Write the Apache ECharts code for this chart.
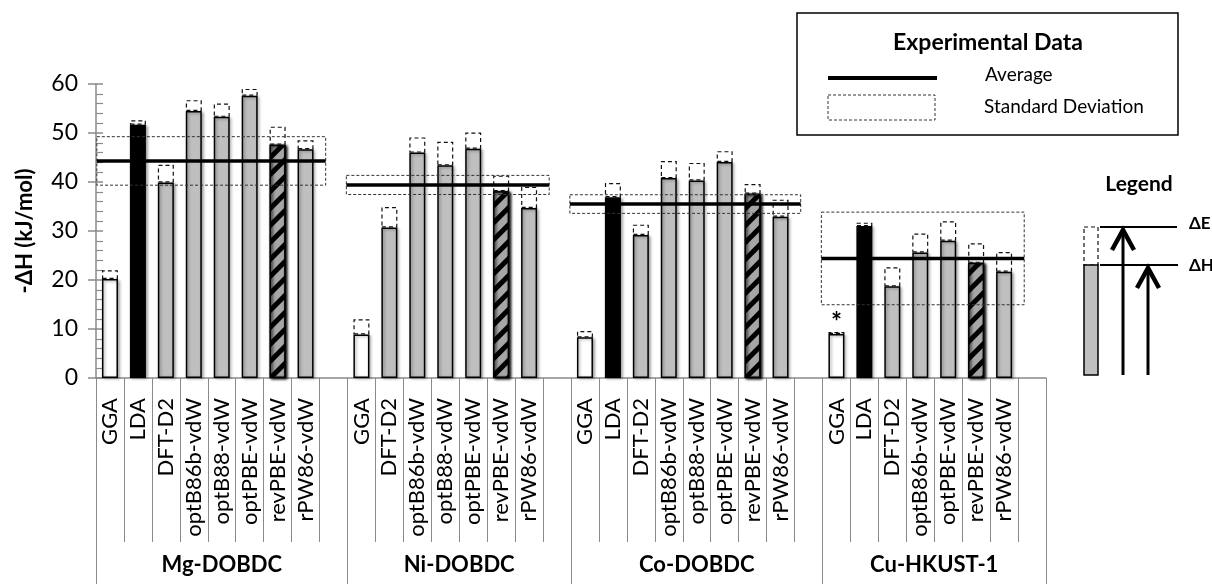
<!DOCTYPE html>
<html>
<head>
<meta charset="utf-8">
<script src="https://cdn.jsdelivr.net/npm/echarts@6/dist/echarts.min.js"></script>
<style>html,body{margin:0;padding:0;background:#fff;}#chart{width:1212px;height:584px;}</style>
</head>
<body>
<div id="chart"></div>
<script>
// ---------- DATA ----------
const groupNames = ['Mg-DOBDC', 'Ni-DOBDC', 'Co-DOBDC', 'Cu-HKUST-1'];

const mgMethods = ['GGA', 'LDA', 'DFT-D2', 'optB86b-vdW', 'optB88-vdW', 'optPBE-vdW', 'revPBE-vdW', 'rPW86-vdW'];
const mgDeltaH  = [20.2, 51.7, 39.9, 54.5, 53.3, 57.6, 47.6, 46.7];
const mgDeltaE  = [22.0, 52.6, 43.5, 56.7, 56.0, 59.0, 51.3, 48.5];

const niMethods = ['GGA', 'DFT-D2', 'optB86b-vdW', 'optB88-vdW', 'optPBE-vdW', 'revPBE-vdW', 'rPW86-vdW'];
const niDeltaH  = [8.9, 30.7, 46.0, 43.4, 46.8, 38.1, 34.7];
const niDeltaE  = [12.0, 34.9, 49.1, 48.2, 50.1, 41.3, 39.0];

const coMethods = ['GGA', 'LDA', 'DFT-D2', 'optB86b-vdW', 'optB88-vdW', 'optPBE-vdW', 'revPBE-vdW', 'rPW86-vdW'];
const coDeltaH  = [8.3, 36.9, 29.2, 40.8, 40.3, 44.1, 37.6, 32.9];
const coDeltaE  = [9.6, 39.8, 31.3, 44.3, 43.9, 46.3, 39.6, 36.4];

const cuMethods = ['GGA', 'LDA', 'DFT-D2', 'optB86b-vdW', 'optPBE-vdW', 'revPBE-vdW', 'rPW86-vdW'];
const cuDeltaH  = [9.0, 31.0, 18.7, 25.6, 28.0, 23.5, 21.7];
const cuDeltaE  = [9.4, 31.7, 22.6, 29.5, 32.0, 27.5, 25.7];

// experimental average and standard deviation per group
const expAverage = [44.3, 39.4, 35.5, 24.4];
const expStdDev  = [4.95, 1.95, 1.9, 9.45];

const yTicks = [0, 10, 20, 30, 40, 50, 60];
const yAxisTitle = '-ΔH (kJ/mol)';
const note = { group: 3, method: 'GGA', text: '*' };

// ---------- BUILD ----------
const groups = [
  { methods: mgMethods, dH: mgDeltaH, dE: mgDeltaE },
  { methods: niMethods, dH: niDeltaH, dE: niDeltaE },
  { methods: coMethods, dH: coDeltaH, dE: coDeltaE },
  { methods: cuMethods, dH: cuDeltaH, dE: cuDeltaE }
];

const FONT = 'Lato';
const categories = [];
const methodOf = [];
const hData = [];
const eData = [];
const groupStart = [];
groups.forEach((g, gi) => {
  groupStart.push(categories.length);
  g.methods.forEach((m, i) => {
    categories.push(m);
    methodOf.push({ m, gi, i });
    hData.push(g.dH[i]);
    eData.push(+(g.dE[i] - g.dH[i]).toFixed(2));
  });
  categories.push('');
  methodOf.push(null);
  hData.push('-');
  eData.push('-');
});
const nSlots = categories.length;

const barShadow = { shadowColor: 'rgba(0,0,0,0.35)', shadowBlur: 3, shadowOffsetX: 1.5, shadowOffsetY: 1 };
function barStyle(method) {
  const base = Object.assign({ borderColor: '#000', borderWidth: 1.5 }, barShadow);
  if (method === 'GGA') return Object.assign(base, { color: '#ffffff' });
  if (method === 'LDA') return Object.assign(base, { color: '#000000' });
  if (method === 'revPBE-vdW') return Object.assign(base, {
    color: '#a6a6a6',
    decal: { symbol: 'rect', symbolSize: 1, color: '#000', backgroundColor: '#a6a6a6',
             dashArrayX: [1, 0], dashArrayY: [5, 7], rotation: -Math.PI / 4 }
  });
  return Object.assign(base, { color: '#bfbfbf' });
}

const hSeriesData = hData.map((v, k) => {
  if (v === '-') return '-';
  return { value: v, itemStyle: barStyle(methodOf[k].m) };
});
const eSeriesData = eData.map((v, k) => {
  if (v === '-') return '-';
  const info = methodOf[k];
  const item = { value: v };
  if (info.gi === note.group && info.m === note.method) {
    item.label = { show: true, position: 'top', formatter: note.text, distance: -4,
                   fontSize: 26, fontWeight: 'bold', color: '#000', fontFamily: FONT };
  }
  return item;
});

// group axis (half-slot resolution, boundaryGap false)
const groupAxisData = [];
const groupLabelIdx = {};
const groupTickIdx = new Set();
for (let i = 0; i <= nSlots * 2; i++) groupAxisData.push('');
groups.forEach((g, gi) => {
  const s = groupStart[gi];
  const len = g.methods.length + 1;
  groupTickIdx.add(s * 2);
  groupTickIdx.add((s + len) * 2);
  groupLabelIdx[s * 2 + len] = groupNames[gi];
  groupAxisData[s * 2 + len] = groupNames[gi];
});

const series = [
  { type: 'bar', name: 'ΔH', stack: 'e', xAxisIndex: 0, yAxisIndex: 0, barWidth: 16,
    data: hSeriesData, z: 2 },
  { type: 'bar', name: 'ΔE', stack: 'e', xAxisIndex: 0, yAxisIndex: 0, barWidth: 16,
    itemStyle: { color: 'rgba(0,0,0,0)', borderColor: '#111', borderWidth: 1.2, borderType: [4, 3] },
    data: eSeriesData, z: 2 }
];
groups.forEach((g, gi) => {
  const x0 = Math.max(groupStart[gi] - 0.04, 0.03);
  const x1 = groupStart[gi] + g.methods.length + 0.22;
  const a = expAverage[gi], s = expStdDev[gi];
  series.push({
    type: 'line', xAxisIndex: 2, yAxisIndex: 0, symbol: 'none', silent: true, z: 5,
    lineStyle: { color: '#333', width: 1, type: [3, 2] },
    data: [[x0, a + s], [x1, a + s], [x1, a - s], [x0, a - s], [x0, a + s]]
  });
  series.push({
    type: 'line', xAxisIndex: 2, yAxisIndex: 0, symbol: 'none', silent: true, z: 6,
    lineStyle: { color: '#000', width: 3.5 },
    data: [[x0, a], [x1, a]]
  });
});

const axisGray = '#8a8a8a';
const option = {
  animation: false,
  backgroundColor: '#fff',
  grid: { left: 96, right: 166, top: 84, bottom: 206, containLabel: false, outerBoundsMode: 'none' },
  xAxis: [
    { type: 'category', data: categories, position: 'bottom', boundaryGap: true,
      axisLine: { show: true, lineStyle: { color: axisGray, width: 1.5 } },
      axisTick: { show: true, interval: 0, length: 164, lineStyle: { color: axisGray, width: 1 } },
      axisLabel: { interval: 0, rotate: 90, margin: 20, fontSize: 22, fontFamily: FONT, color: '#000' },
      splitLine: { show: false } },
    { type: 'category', data: groupAxisData, position: 'bottom', boundaryGap: false,
      axisLine: { show: false },
      axisTick: { show: true, length: 210, interval: (idx) => groupTickIdx.has(idx),
                  lineStyle: { color: axisGray, width: 1 } },
      axisLabel: { show: true, margin: 176, fontSize: 22, fontWeight: 'bold', fontFamily: FONT, color: '#000',
                   interval: (idx) => groupLabelIdx[idx] !== undefined },
      splitLine: { show: false } },
    { type: 'value', min: 0, max: nSlots, show: false }
  ],
  yAxis: [
    { type: 'value', min: yTicks[0], max: yTicks[yTicks.length - 1], interval: yTicks[1] - yTicks[0],
      axisLine: { show: true, lineStyle: { color: axisGray, width: 1.5 } },
      axisTick: { show: true, length: 8, lineStyle: { color: axisGray, width: 1.5 } },
      axisLabel: { margin: 18, fontSize: 23, fontFamily: FONT, color: '#000' },
      splitLine: { show: false },
      name: yAxisTitle, nameLocation: 'middle', nameGap: 60, nameRotate: 90,
      nameTextStyle: { fontSize: 22, fontWeight: 'bold', fontFamily: FONT, color: '#000' } },
    { type: 'value', min: yTicks[0], max: yTicks[yTicks.length - 1], interval: yTicks[1] - yTicks[0],
      position: 'left',
      axisLine: { show: false },
      axisTick: { show: true, inside: true, length: 7, lineStyle: { color: axisGray, width: 1.5 } },
      minorTick: { show: true, splitNumber: 5, length: 7, lineStyle: { color: axisGray, width: 1.2 } },
      axisLabel: { show: false }, splitLine: { show: false } }
  ],
  graphic: [
    { type: 'rect', shape: { x: 797, y: 13, width: 381, height: 122 },
      style: { fill: '#fff', stroke: '#000', lineWidth: 1.5 } },
    { type: 'text', x: 988, y: 43,
      style: { text: 'Experimental Data', font: 'bold 23px Lato', fill: '#000',
               align: 'center', verticalAlign: 'middle', textAlign: 'center', textVerticalAlign: 'middle' } },
    { type: 'line', shape: { x1: 828, y1: 78, x2: 937, y2: 78 }, style: { stroke: '#000', lineWidth: 4 } },
    { type: 'text', x: 985, y: 75,
      style: { text: 'Average', font: '19px Lato', fill: '#000', align: 'left', verticalAlign: 'middle',
               textAlign: 'left', textVerticalAlign: 'middle' } },
    { type: 'rect', shape: { x: 828, y: 95, width: 107, height: 25 },
      style: { fill: 'none', stroke: '#333', lineWidth: 1, lineDash: [3, 2] } },
    { type: 'text', x: 984, y: 107,
      style: { text: 'Standard Deviation', font: '19px Lato', fill: '#000', align: 'left', verticalAlign: 'middle',
               textAlign: 'left', textVerticalAlign: 'middle' } },

    { type: 'text', x: 1139, y: 184,
      style: { text: 'Legend', font: 'bold 21px Lato', fill: '#000', align: 'center', verticalAlign: 'middle',
               textAlign: 'center', textVerticalAlign: 'middle' } },
    { type: 'rect', shape: { x: 1084, y: 227, width: 14, height: 38 },
      style: { fill: 'none', stroke: '#111', lineWidth: 1.2, lineDash: [4, 3] } },
    { type: 'rect', shape: { x: 1084, y: 265, width: 14, height: 110 },
      style: { fill: '#bfbfbf', stroke: '#000', lineWidth: 1.5 } },
    { type: 'line', shape: { x1: 1100, y1: 227, x2: 1177, y2: 227 }, style: { stroke: '#000', lineWidth: 2 } },
    { type: 'line', shape: { x1: 1100, y1: 265, x2: 1178, y2: 265 }, style: { stroke: '#000', lineWidth: 2 } },
    { type: 'line', shape: { x1: 1123, y1: 375, x2: 1123, y2: 230 }, style: { stroke: '#000', lineWidth: 3 } },
    { type: 'polyline', shape: { points: [[1112, 250], [1123, 230], [1134, 250]] },
      style: { fill: 'none', stroke: '#000', lineWidth: 4.5 } },
    { type: 'line', shape: { x1: 1148, y1: 375, x2: 1148, y2: 268 }, style: { stroke: '#000', lineWidth: 3 } },
    { type: 'polyline', shape: { points: [[1137, 288], [1148, 268], [1159, 288]] },
      style: { fill: 'none', stroke: '#000', lineWidth: 4.5 } },
    { type: 'text', x: 1189, y: 224,
      style: { text: 'ΔE', font: 'bold 17px Lato', fill: '#000', align: 'left', verticalAlign: 'middle',
               textAlign: 'left', textVerticalAlign: 'middle' } },
    { type: 'text', x: 1189, y: 266,
      style: { text: 'ΔH', font: 'bold 17px Lato', fill: '#000', align: 'left', verticalAlign: 'middle',
               textAlign: 'left', textVerticalAlign: 'middle' } }
  ],
  series: series
};

const chart = echarts.init(document.getElementById('chart'), null, { renderer: 'canvas' });
chart.setOption(option);
</script>
</body>
</html>
